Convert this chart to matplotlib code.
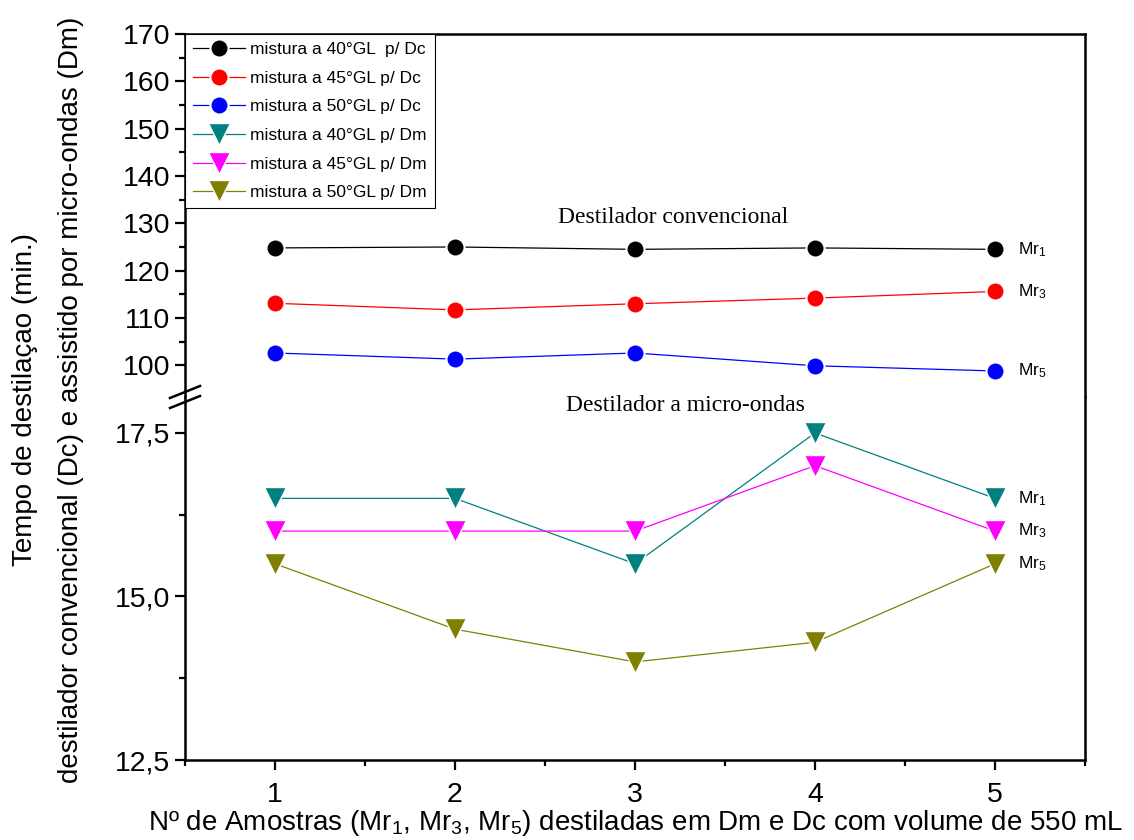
import numpy as np
import matplotlib
matplotlib.use("Agg")
import matplotlib.pyplot as plt
from matplotlib.lines import Line2D
from matplotlib.ticker import FixedLocator, FuncFormatter

plt.rcParams['font.family'] = ['Liberation Sans', 'DejaVu Sans']
plt.rcParams['mathtext.fontset'] = 'custom'
plt.rcParams['mathtext.rm'] = 'Liberation Sans'
plt.rcParams['mathtext.it'] = 'Liberation Sans'

# ── data ──────────────────────────────────────────────
amostras = [1, 2, 3, 4, 5]

dc_40 = [124.8, 125.0, 124.5, 124.8, 124.5]
dc_45 = [113.1, 111.7, 113.0, 114.2, 115.6]
dc_50 = [102.6, 101.3, 102.6, 99.9, 98.8]

dm_40 = [16.5, 16.5, 15.5, 17.5, 16.5]
dm_45 = [16.0, 16.0, 16.0, 17.0, 16.0]
dm_50 = [15.5, 14.5, 14.0, 14.3, 15.5]

labels_dc = ['mistura a 40°GL  p/ Dc', 'mistura a 45°GL p/ Dc', 'mistura a 50°GL p/ Dc']
labels_dm = ['mistura a 40°GL p/ Dm', 'mistura a 45°GL p/ Dm', 'mistura a 50°GL p/ Dm']
colors_dc = ['#000000', '#ff0000', '#0000ff']
colors_dm = ['#008080', '#ff00ff', '#808000']

mr_tags = ['Mr$_1$', 'Mr$_3$', 'Mr$_5$']

# ── figure ────────────────────────────────────────────
W, H = 1134, 840
fig = plt.figure(figsize=(W / 100, H / 100), dpi=100)
left, right = 185 / W, 1085 / W
top, brk, bottom = 1 - 34 / H, 1 - 397 / H, 1 - 760 / H

ax_up = fig.add_axes([left, brk, right - left, top - brk])
ax_lo = fig.add_axes([left, bottom, right - left, brk - bottom])

spine_w = 1.8
for ax in (ax_up, ax_lo):
    for s in ax.spines.values():
        s.set_linewidth(spine_w)
    ax.set_xlim(0.5, 5.5)
    ax.tick_params(axis='both', which='major', direction='out', length=7, width=1.6,
                   labelsize=20.5, right=False, top=False)
    ax.tick_params(axis='both', which='minor', direction='out', length=4, width=1.6,
                   right=False, top=False)
    ax.tick_params(axis='x', which='major', pad=9)

ax_up.spines['bottom'].set_visible(False)
ax_lo.spines['top'].set_visible(False)
ax_up.tick_params(axis='x', which='both', bottom=False, labelbottom=False)

# upper panel (Dc)
ax_up.set_ylim(93.3, 170)
ax_up.yaxis.set_major_locator(FixedLocator(np.arange(100, 171, 10)))
ax_up.yaxis.set_minor_locator(FixedLocator(np.arange(105, 170, 10)))

# lower panel (Dm)
ax_lo.set_ylim(12.5, 18.05)
ax_lo.yaxis.set_major_locator(FixedLocator([12.5, 15.0, 17.5]))
ax_lo.yaxis.set_minor_locator(FixedLocator([13.75, 16.25]))
ax_lo.yaxis.set_major_formatter(FuncFormatter(lambda v, p: f"{v:.1f}".replace('.', ',')))
ax_lo.xaxis.set_major_locator(FixedLocator(amostras))
ax_lo.xaxis.set_minor_locator(FixedLocator(np.arange(0.5, 5.6, 1.0)))

handles = []
for ys, c, lab in zip([dc_40, dc_45, dc_50], colors_dc, labels_dc):
    h, = ax_up.plot(amostras, ys, '-', color=c, lw=0.9, marker='o', ms=13,
                    mfc=c, mec='white', mew=1.5, label=lab)
    handles.append(h)
for ys, c, lab in zip([dm_40, dm_45, dm_50], colors_dm, labels_dm):
    h, = ax_lo.plot(amostras, ys, '-', color=c, lw=0.9, marker='v', ms=16,
                    mfc=c, mec='white', mew=1.0, label=lab)
    handles.append(h)

leg = ax_up.legend(handles=handles, loc='upper left', bbox_to_anchor=(0, 1),
                   borderaxespad=0, fontsize=12.5, frameon=True, fancybox=False,
                   edgecolor='black', framealpha=1, handlelength=3.0,
                   labelspacing=0.78, borderpad=0.45, handletextpad=0.3)
leg.get_frame().set_linewidth(0.8)

# panel titles
ax_up.text(3.21, 131.3, 'Destilador convencional', family='Liberation Serif',
           fontsize=17, ha='center', va='center')
ax_lo.text(3.28, 17.92, 'Destilador a micro-ondas', family='Liberation Serif',
           fontsize=17, ha='center', va='center')

# series tags on the right
for ys, tag in zip([dc_40, dc_45, dc_50], mr_tags):
    ax_up.text(5.13, ys[-1], tag, fontsize=12.5, va='center', ha='left')
for ys, tag in zip([dm_40, dm_45, dm_50], mr_tags):
    ax_lo.text(5.13, ys[-1], tag, fontsize=12.5, va='center', ha='left')

# axis break marks
for dy in (-5, 5):
    y0 = 1 - (397 + dy) / H
    fig.add_artist(Line2D([170 / W, 200 / W], [y0 - 6 / H, y0 + 6 / H],
                          color='black', lw=1.8))

# axis labels
fig.text(48 / W, 1 - 400 / H,
         'Tempo de destilaçao (min.)\ndestilador convencional (Dc) e assistido por micro-ondas (Dm)',
         rotation=90, ha='center', va='center', multialignment='center',
         fontsize=20, linespacing=2.0)
fig.text(635 / W, 1 - 823 / H,
         'Nº de Amostras (Mr$_1$, Mr$_3$, Mr$_5$) destiladas em Dm e Dc com volume de 550 mL',
         ha='center', va='center', fontsize=20)

fig.savefig('out.png', dpi=100)
